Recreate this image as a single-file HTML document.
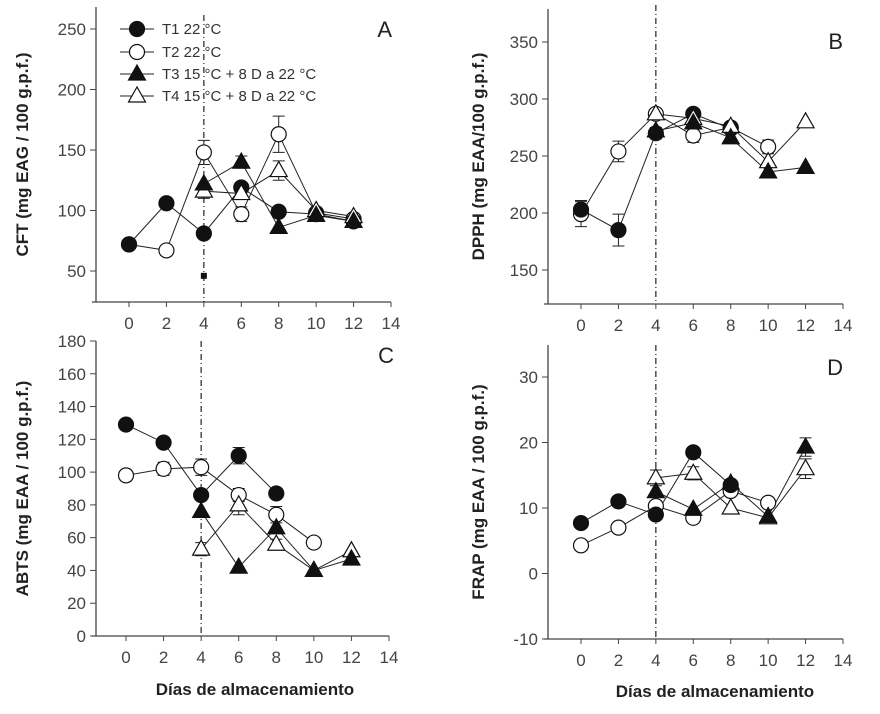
<!DOCTYPE html>
<html><head><meta charset="utf-8"><style>
body{margin:0;background:#fff}
svg{display:block;font-family:"Liberation Sans",sans-serif}
.tk{font-size:17px;fill:#444}
.yt{font-size:17px;font-weight:bold;fill:#222}
</style></head><body>
<svg id="c" width="880" height="714" viewBox="0 0 880 714"></svg>
<script>
const days=[0,2,4,6,8,10,12];
const xTicks=[0,2,4,6,8,10,12,14];
// Panel A CFT
const aT1=[72,106,81,119,99,97,91];
const aT2=[72,67,148,97,163,98,93];
const aT3=[null,null,122,140,86,96,91];
const aT4=[null,null,116,114,133,100,95];
const aT2err=[0,0,10,6,15,0,0];
const aT4err=[0,0,6,0,8,0,0];
const aT3err=[0,0,0,5,0,0,0];
const aTicks=[50,100,150,200,250];
// Panel B DPPH
const bT1=[203,185,270,287,274,null,null];
const bT2=[199,254,287,268,275,258,null];
const bT3=[null,null,272,279,266,236,240];
const bT4=[null,null,287,283,276,245,280];
const bT1err=[8,14,5,0,0,0,0];
const bT2err=[11,9,0,6,0,6,0];
const bTicks=[150,200,250,300,350];
// Panel C ABTS
const cT1=[129,118,86,110,87,null,null];
const cT2=[98,102,103,86,74,57,null];
const cT3=[null,null,76,42,66,40,47];
const cT4=[null,null,53,80,56,40,52];
const cT1err=[3,0,0,5,0,0,0];
const cT2err=[0,4,5,4,5,0,0];
const cT4err=[0,0,4,6,3,0,0];
const cTicks=[0,20,40,60,80,100,120,140,160,180];
// Panel D FRAP
const dT1=[7.7,11,9,18.5,13.5,null,null];
const dT2=[4.3,7,10.3,8.5,12.6,10.8,null];
const dT3=[null,null,12.5,9.8,13.8,8.7,19.3];
const dT4=[null,null,14.6,15.3,10,8.5,16];
const dT3err=[0,0,0,0,0,0,1.4];
const dT4err=[0,0,1.2,1,0,0,1.5];
const dTicks=[-10,0,10,20,30];

const NS="http://www.w3.org/2000/svg";
const svg=document.getElementById('c');
function mk(t,a,p){const e=document.createElementNS(NS,t);for(const k in a)e.setAttribute(k,a[k]);(p||svg).appendChild(e);return e;}

const panels=[
 {id:'a',x0:129,x14:391,ax:96,ay:302,top:7,v0:50,p0:271,v1:250,p1:29,ticks:aTicks,title:'CFT (mg EAG / 100 g.p.f.)',tx:28,letter:'A',lx:392,ly:37,s:[aT1,aT2,aT3,aT4],e:[null,aT2err,aT3err,aT4err],vtop:15,xt:false},
 {id:'b',x0:581,x14:843,ax:548,ay:304,top:9,v0:150,p0:270,v1:350,p1:42,ticks:bTicks,title:'DPPH (mg EAA/100 g.p.f.)',tx:484,letter:'B',lx:843,ly:49,s:[bT1,bT2,bT3,bT4],e:[bT1err,bT2err,null,null],vtop:5,xt:false},
 {id:'c',x0:126,x14:389,ax:96,ay:636,top:341,v0:0,p0:636,v1:180,p1:341,ticks:cTicks,title:'ABTS (mg EAA / 100 g.p.f.)',tx:28,letter:'C',lx:394,ly:363,s:[cT1,cT2,cT3,cT4],e:[cT1err,cT2err,null,cT4err],vtop:341,xt:true,xtx:255,xty:695},
 {id:'d',x0:581,x14:843,ax:548,ay:639,top:345,v0:-10,p0:639,v1:30,p1:377,ticks:dTicks,title:'FRAP (mg EAA / 100 g.p.f.)',tx:484,letter:'D',lx:843,ly:375,s:[dT1,dT2,dT3,dT4],e:[null,null,dT3err,dT4err],vtop:345,xt:true,xtx:715,xty:697}
];
const seriesNames=['t1','t2','t3','t4'];
function marker(kind,x,y,g){
 let m;
 if(kind<2) m=mk('circle',{cx:x,cy:y,r:7.5,fill:kind==0?'#111':'#fff',stroke:'#111','stroke-width':1.2},g);
 else m=mk('polygon',{points:`${x},${y-9} ${x-8.5},${y+6} ${x+8.5},${y+6}`,fill:kind==2?'#111':'#fff',stroke:'#111','stroke-width':1.2},g);
 return m;
}
panels.forEach(P=>{
 const g=mk('g',{});
 
 
 const X=v=>P.x0+(P.x14-P.x0)*v/14;
 const Y=v=>P.p0+(P.p1-P.p0)*(v-P.v0)/(P.v1-P.v0);
 const ya=mk('line',{x1:P.ax,y1:P.top,x2:P.ax,y2:P.ay,stroke:'#444','stroke-width':1.3},g);
 
 const xa=mk('line',{x1:P.ax-4,y1:P.ay,x2:X(14),y2:P.ay,stroke:'#444','stroke-width':1.3},g);
 
 P.ticks.forEach(t=>{
  mk('line',{x1:P.ax-6,y1:Y(t),x2:P.ax,y2:Y(t),stroke:'#444'},g);
  const tl=mk('text',{x:P.ax-10,y:Y(t)+6,'text-anchor':'end',class:'tk'},g);tl.textContent=t;
  
 });
 xTicks.forEach(t=>{
  mk('line',{x1:X(t),y1:P.ay,x2:X(t),y2:P.ay+5,stroke:'#444'},g);
  const tl=mk('text',{x:X(t),y:P.ay+27,'text-anchor':'middle',class:'tk'},g);tl.textContent=t;
  
 });
 const yt=mk('text',{x:P.tx,y:(P.top+P.ay)/2,'text-anchor':'middle',class:'yt',transform:`rotate(-90 ${P.tx} ${(P.top+P.ay)/2})`},g);
 yt.textContent=P.title;
 const lt=mk('text',{x:P.lx,y:P.ly,'text-anchor':'end','font-size':22,fill:'#222'},g);lt.textContent=P.letter;
 
 if(P.xt){const xt=mk('text',{x:P.xtx,y:P.xty,'text-anchor':'middle',class:'yt'},g);xt.textContent='Días de almacenamiento';
  }
 const vl=mk('line',{x1:X(4),y1:P.vtop,x2:X(4),y2:P.ay,stroke:'#222','stroke-width':1.2,'stroke-dasharray':'6,3,1,3'},g);
 
 P.s.forEach((arr,k)=>{
  let pts=[];days.forEach((d,i)=>{if(arr[i]!=null)pts.push(X(d)+','+Y(arr[i]));});
  const pl=mk('polyline',{points:pts.join(' '),fill:'none',stroke:'#222','stroke-width':1},g);
  
 });
 P.s.forEach((arr,k)=>{const er=P.e[k];if(!er)return;
  days.forEach((d,i)=>{if(arr[i]==null||!er[i])return;
   const x=X(d),a=Y(arr[i]+er[i]),b=Y(arr[i]-er[i]);
   const eb=mk('path',{d:`M${x},${a}V${b}M${x-6},${a}H${x+6}M${x-6},${b}H${x+6}`,stroke:'#222',fill:'none'},g);
   
  });
 });
 [1,0,3,2].forEach(k=>{const arr=P.s[k];
  days.forEach((d,i)=>{if(arr[i]==null)return;
   const m=marker(k,X(d),Y(arr[i]),g);
   
  });
 });
 if(P.id==='a'){
  const sq=mk('rect',{x:X(4)-3,y:Y(46)-3,width:6,height:6,fill:'#111'},g);
  
  const lg=mk('g',{},g);
  
  const labels=['T1 22 °C','T2 22 °C','T3 15 °C + 8 D a 22 °C','T4 15 °C + 8 D a 22 °C'];
  const ly=[29,52,74,96];
  labels.forEach((lab,k)=>{
   const e=mk('g',{},lg);
   
   mk('line',{x1:120,y1:ly[k],x2:154,y2:ly[k],stroke:'#222'},e);
   marker(k,137,ly[k],e);
   const t=mk('text',{x:162,y:ly[k]+5,'font-size':15,fill:'#333'},e);t.textContent=lab;
  });
 }
});
</script>
</body></html>
